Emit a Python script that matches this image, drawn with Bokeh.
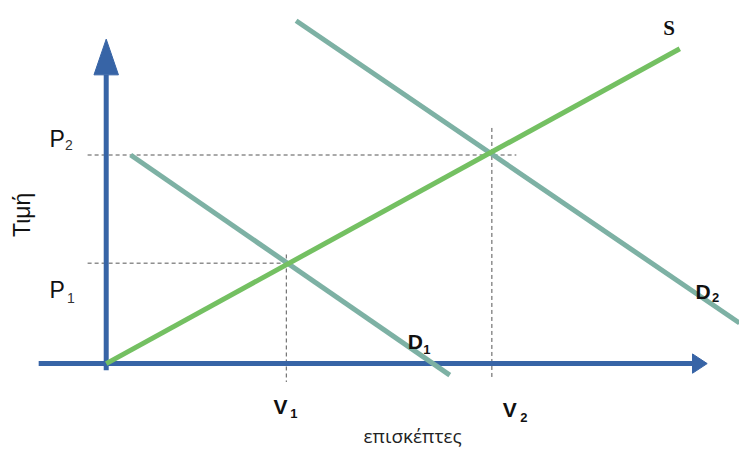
from bokeh.plotting import figure
from bokeh.models import Range1d
from bokeh.core.properties import value
from bokeh.embed import file_html
from bokeh.resources import INLINE
import math

# ---- data (quantity = visitors, price) ----
supply_q = [0, 586]
supply_p = [0, 326]
d1_q = [25, 351]
d1_p = [216, -12]
d2_q = [194, 647]
d2_p = [355, 42]
V = [184, 394]          # equilibrium visitors V1, V2
P = [104, 216]          # equilibrium prices P1, P2
axis_q = [-69, 614]     # x-axis extent (tip)
axis_p = [-7, 336]      # y-axis extent (tip)

AXIS = "#3764A6"
GREEN = "#74C062"
TEAL = "#7DB1A4"

p = figure(width=739, height=450, output_backend="svg", toolbar_location=None,
           x_range=Range1d(-108, 647), y_range=Range1d(-90, 376),
           min_border=0, outline_line_color=None)
p.xaxis.visible = False
p.yaxis.visible = False
p.grid.visible = False
p.background_fill_color = "white"

# dashed guide lines
dash = dict(line_color="#555555", line_width=1, line_dash="4 3")
p.line([-19, V[1] + 25], [P[1], P[1]], **dash)
p.line([-19, V[0] + 1], [P[0], P[0]], **dash)
p.line([V[0], V[0]], [P[0] + 9, -19], **dash)
p.line([V[1], V[1]], [P[1] + 28, -14], **dash)

# axes with arrowheads
head_x_len, head_x_w = 15, 20
head_y_len, head_y_w = 37, 25
p.line([axis_q[0], axis_q[1] - head_x_len], [0, 0], line_color=AXIS, line_width=5)
p.patch([axis_q[1] - head_x_len, axis_q[1], axis_q[1] - head_x_len],
        [head_x_w / 2, 0, -head_x_w / 2], color=AXIS)
p.line([0, 0], [axis_p[0], axis_p[1] - head_y_len], line_color=AXIS, line_width=5)
p.patch([-head_y_w / 2, 0, head_y_w / 2],
        [axis_p[1] - head_y_len, axis_p[1], axis_p[1] - head_y_len], color=AXIS)

# demand and supply curves
p.line(d1_q, d1_p, line_color=TEAL, line_width=5)
p.line(d2_q, d2_p, line_color=TEAL, line_width=5)
p.line(supply_q, supply_p, line_color=GREEN, line_width=5)

def txt(x, y, s, size, font="Liberation Sans", style="normal", color="#111111",
        align="left", baseline="alphabetic", angle=0.0):
    p.text(x=[x], y=[y], text=[s], text_font=value(font), text_font_size=f"{size}px",
           text_font_style=style, text_color=color, text_align=align,
           text_baseline=baseline, angle=angle)

# price labels
txt(-58, P[1] + 17, "P", 23)
txt(-42, P[1] + 10, "2", 14, color="#333333")
txt(-58, P[0] - 28, "P", 23)
txt(-40, P[0] - 36, "1", 14, color="#333333")

# visitor labels
txt(V[0] - 13, -44, "V", 21, style="bold")
txt(V[0] + 4, -52, "1", 13, style="bold")
txt(V[1] + 11, -48, "V", 21, style="bold")
txt(V[1] + 29, -56, "2", 13, style="bold")

# curve labels
txt(308, 23, "D", 21, style="bold")
txt(324, 15, "1", 13, style="bold")
txt(602, 75, "D", 21, style="bold")
txt(619, 68, "2", 13, style="bold")
txt(569, 348, "S", 21, font="Liberation Serif", style="bold")

# axis titles
txt(313, -75, "επισκέπτες", 19, font="Open Sans", color="#222222", align="center")
txt(-86, 154, "Τιμή", 23, color="#111111", align="center", baseline="middle",
    angle=math.pi / 2)

open("out.html", "w").write(file_html(p, INLINE))
